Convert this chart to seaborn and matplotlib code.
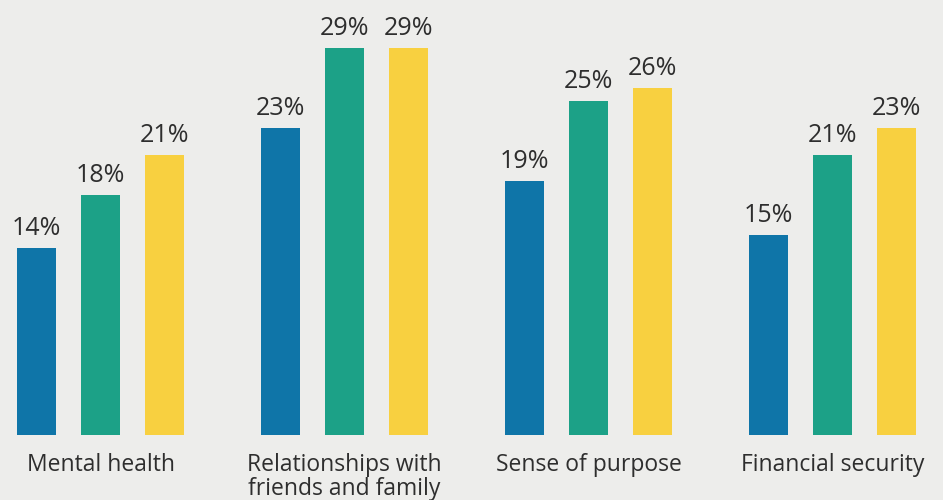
import matplotlib
matplotlib.use("Agg")
import matplotlib.pyplot as plt
import seaborn as sns
import pandas as pd

categories = ["Mental health", "Relationships with\nfriends and family",
              "Sense of purpose", "Financial security"]
series = ["A", "B", "C"]
values_a = [14, 23, 19, 15]
values_b = [18, 29, 25, 21]
values_c = [21, 29, 26, 23]
colors = ["#0f75a8", "#1ca187", "#f8d040"]
bg = "#ededeb"

rows = []
for s, vals in zip(series, [values_a, values_b, values_c]):
    for c, v in zip(categories, vals):
        rows.append({"category": c, "series": s, "value": v})
df = pd.DataFrame(rows)

sns.set_theme(style="white")
plt.rcParams["font.family"] = ["Open Sans", "DejaVu Sans"]

fig = plt.figure(figsize=(9.43, 5.0), dpi=100, facecolor=bg)
ax = fig.add_axes([0, 65 / 500, 1, 435 / 500])
ax.set_facecolor(bg)

sns.barplot(data=df, x="category", y="value", hue="series", order=categories,
            hue_order=series, palette=colors, width=0.787, gap=0.39,
            saturation=1, legend=False, linewidth=0, ax=ax)

for container in ax.containers:
    ax.bar_label(container, labels=[f"{v:.0f}%" for v in container.datavalues],
                 padding=5, fontsize=18, color="#2e2e2e")

ax.set_xlim(-0.412, 3.453)
ax.set_ylim(0, 32.58)
ax.set_xlabel("")
ax.set_ylabel("")
ax.set_yticks([])
ax.tick_params(axis="x", length=0, pad=13, labelsize=16.5, labelcolor="#2e2e2e")
for lbl in ax.get_xticklabels():
    lbl.set_verticalalignment("top")
    lbl.set_linespacing(1.0)
for sp in ax.spines.values():
    sp.set_visible(False)

fig.savefig("out.png", dpi=100, facecolor=bg)
